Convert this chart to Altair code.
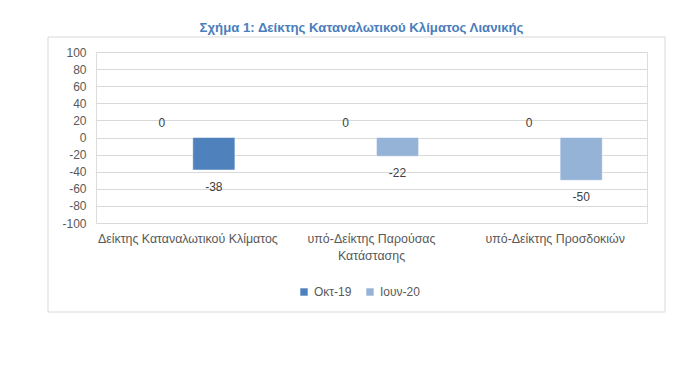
import altair as alt
import pandas as pd

categories = ["Δείκτης Καταναλωτικού Κλίματος", "υπό-Δείκτης Παρούσας Κατάστασης", "υπό-Δείκτης Προσδοκιών"]
series = ["Οκτ-19", "Ιουν-20"]
okt19 = [0, 0, 0]
iouv20 = [-38, -22, -50]
y_ticks = list(range(-100, 101, 20))

DARK = "#4f81bd"
LIGHT = "#95b3d7"
FONT = "Liberation Sans"

rows = []
for i, c in enumerate(categories):
    rows.append({"category": c, "series": series[0], "value": okt19[i], "first": i == 0})
    rows.append({"category": c, "series": series[1], "value": iouv20[i], "first": i == 0})
df = pd.DataFrame(rows)

x = alt.X("category:N", sort=categories, title=None,
          scale=alt.Scale(paddingInner=0, paddingOuter=0),
          axis=alt.Axis(labelAngle=0, ticks=False, domain=False, labelPadding=9,
                        labelFontSize=12.4, labelColor="#595959", labelFont=FONT,
                        labelLineHeight=17, labelLimit=300,
                        labelExpr="datum.label == 'υπό-Δείκτης Παρούσας Κατάστασης' ? ['υπό-Δείκτης Παρούσας', 'Κατάστασης'] : datum.label"))
xo = alt.XOffset("series:N", sort=series,
                 scale=alt.Scale(paddingInner=0.19, paddingOuter=0.86))
y = alt.Y("value:Q", title=None,
          scale=alt.Scale(domain=[-100, 100], nice=False, zero=False),
          axis=alt.Axis(values=y_ticks, ticks=False, domain=False, labelPadding=10,
                        labelFontSize=12, labelColor="#595959", labelFont=FONT,
                        labelExpr="toString(datum.value)",
                        grid=True, gridColor="#d9d9d9", gridWidth=1))

frame = alt.Chart(pd.DataFrame({"a": [0]})).mark_rect(
    fill=None, stroke="#d9d9d9", strokeWidth=1, clip=False
).encode(x=alt.value(-48), x2=alt.value(569), y=alt.value(-15), y2=alt.value(260))

bars = alt.Chart(df).mark_bar(stroke="white", strokeWidth=0.5).encode(
    x=x, xOffset=xo, y=y,
    color=alt.condition(
        "datum.first && datum.series == 'Ιουν-20'",
        alt.value(DARK),
        alt.Color("series:N", sort=series,
                  scale=alt.Scale(domain=series, range=[DARK, LIGHT]),
                  legend=alt.Legend(title=None, orient="none", direction="horizontal",
                                    legendX=202, legendY=234, symbolType="square",
                                    symbolSize=55, symbolStrokeWidth=0, symbolOpacity=1,
                                    labelFontSize=12, labelColor="#595959", labelFont=FONT,
                                    columnPadding=12, labelOffset=4)),
    ),
)

zero_labels = alt.Chart(df).transform_filter("datum.value == 0").transform_calculate(
    lab="toString(datum.value)"
).mark_text(
    fontSize=12, color="#404040", font=FONT, baseline="middle", dy=-15
).encode(x=x, xOffset=xo, y=y, text=alt.Text("lab:N"))

neg_labels = alt.Chart(df).transform_filter("datum.value < 0").transform_calculate(
    lab="toString(datum.value)"
).mark_text(
    fontSize=12, color="#404040", font=FONT, baseline="middle", dy=17
).encode(x=x, xOffset=xo, y=y, text=alt.Text("lab:N"))

chart = alt.layer(frame, bars, zero_labels, neg_labels).properties(
    width=551, height=171,
    autosize=alt.AutoSizeParams(type="none"),
    padding={"left": 88, "top": 44, "right": 45, "bottom": 120},
    title=alt.TitleParams("Σχήμα 1: Δείκτης Καταναλωτικού Κλίματος Λιανικής",
                          font=FONT, fontSize=13.2, fontWeight="bold", color="#4a7ebb",
                          anchor="middle", dx=-10, offset=1),
).configure_view(stroke=None).configure(background="white")

chart.save("out.html", embed_options={"renderer": "svg", "actions": False})
